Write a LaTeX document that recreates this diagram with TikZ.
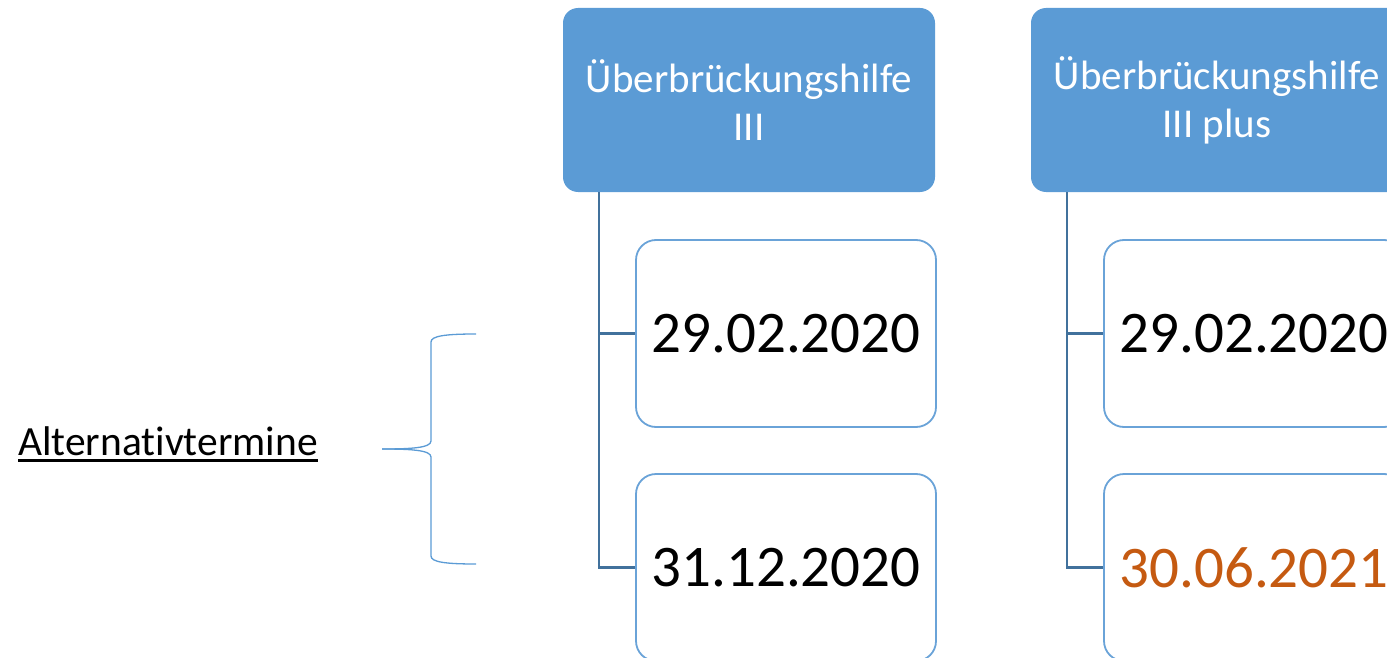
\documentclass[tikz,border=0pt]{standalone}
\usepackage{fontspec}
\setmainfont{Carlito}[Ligatures=NoCommon]
\definecolor{hdrblue}{HTML}{5B9BD5}
\definecolor{boxline}{HTML}{6AA3D8}
\definecolor{connblue}{HTML}{41719C}
\definecolor{accent}{HTML}{C55A11}
\tikzset{
  header/.style={fill=hdrblue, draw=none, rounded corners=15pt,
    minimum width=372pt, minimum height=184pt, inner sep=0pt,
    text=white, align=center, font=\fontsize{41}{48}\selectfont},
  datebox/.style={draw=boxline, line width=1.8pt, fill=white, rounded corners=20pt,
    minimum width=300pt, minimum height=187pt, inner sep=0pt,
    font=\fontsize{59}{70}\selectfont},
  conn/.style={draw=connblue, line width=2.2pt},
  bracket/.style={draw=hdrblue, line width=1.3pt},
}
\begin{document}
\begin{tikzpicture}[x=1pt,y=-1pt]
\useasboundingbox (0,0) rectangle (1387,658);
\clip (0,0) rectangle (1387,658);

% column headings
\node[header] (h1) at (749,100) {Überbrückungshilfe\\III};
\node[header] (h2) at (1217,100) {Überbrückungshilfe\\III plus};

% connector stems behind the date boxes
\coordinate (s1) at ([xshift=36pt]h1.south west);
\coordinate (s2) at ([xshift=36pt]h2.south west);

% date boxes
\node[datebox] (d11) at (786,333.5) {29.02.2020};
\node[datebox] (d12) at (786,567.5) {31.12.2020};
\node[datebox] (d21) at (1254,333.5) {29.02.2020};
\node[datebox, text=accent] (d22) at (1254,567.5) {30.06.2021};

\draw[conn] (s1) |- (d11.west);
\draw[conn] (s1) |- (d12.west);
\draw[conn] (s2) |- (d21.west);
\draw[conn] (s2) |- (d22.west);

% label with underline
\node[anchor=base west, inner sep=0pt, font=\fontsize{41.5}{48}\selectfont] (lbl) at (18,455) {Alternativtermine};
\draw[line width=2.6pt] ([yshift=-5.5pt]lbl.base west) -- ([yshift=-5.5pt]lbl.base east);

% curly brace
\coordinate (btop) at (476,334);
\coordinate (bbot) at (476,564);
\coordinate (btip) at (382,449);
\draw[bracket] (btop) .. controls (445,334) and (431,336) .. (431,342)
  -- (431,441) .. controls (431,448) and (410,449) .. (btip);
\draw[bracket] (btip) .. controls (410,449) and (431,450) .. (431,457)
  -- (431,556) .. controls (431,562) and (445,564) .. (bbot);
\end{tikzpicture}
\end{document}
